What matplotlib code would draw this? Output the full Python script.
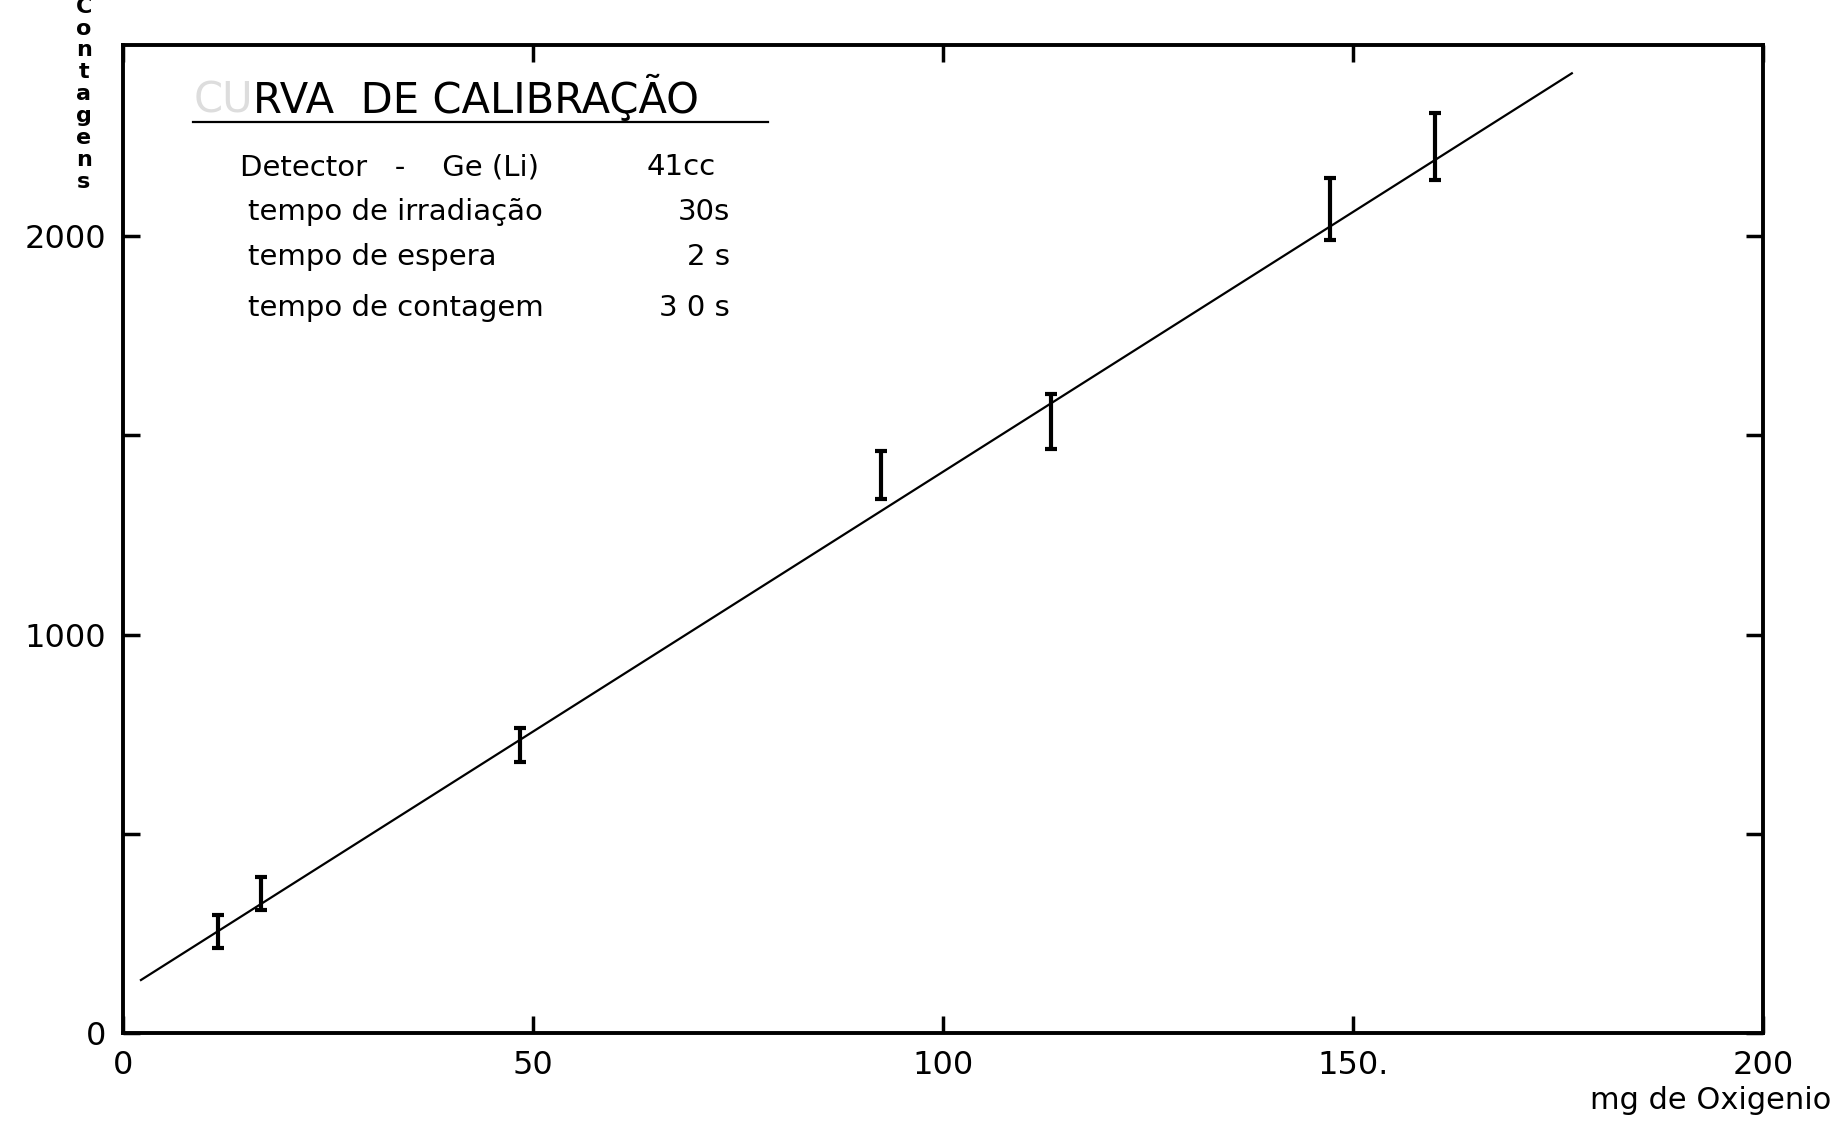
import matplotlib.pyplot as plt

plt.rcParams['font.family'] = ['DejaVu Sans']

# pontos medidos (mg de oxigenio, contagens, erro)
mg = [11.6, 16.8, 48.4, 92.5, 113.2, 147.2, 160.0]
contagens = [255, 350, 723, 1401, 1535, 2068, 2225]
erro = [41, 41, 43, 60, 68, 78, 85]

# reta de calibracao (extremos)
reta_mg = [2.2, 176.7]
reta_cont = [133, 2409]

xticks = [0, 50, 100, 150, 200]
xlabels = ['0', '50', '100', '150.', '200']
yticks = [0, 500, 1000, 1500, 2000]
ylabels = ['0', '', '1000', '', '2000']

info = [('Detector   -    Ge (Li)', '41cc'),
        ('tempo de irradiação', '30s'),
        ('tempo de espera', '2 s'),
        ('tempo de contagem', '3 0 s')]

fig = plt.figure(figsize=(18.4, 11.21), dpi=100)
ax = fig.add_axes([0.0668, 0.0785, 0.8913, 0.881])

ax.plot(reta_mg, reta_cont, color='black', lw=1.6)
ax.errorbar(mg, contagens, yerr=erro, fmt='none', ecolor='black',
            elinewidth=3, capsize=4.5, capthick=3)

ax.set_xlim(0, 200)
ax.set_ylim(0, 2479)
ax.set_xticks(xticks)
ax.set_xticklabels(xlabels)
ax.set_yticks(yticks)
ax.set_yticklabels(ylabels)
ax.tick_params(direction='in', length=12, width=2.5, labelsize=23,
               top=True, right=True, pad=12)
for s in ax.spines.values():
    s.set_linewidth(2.8)

# titulo com "CU" apagado
t1 = ax.text(8.6, 2310, 'CU', fontsize=30, color='#dddddd', va='baseline')
ax.annotate('RVA  DE CALIBRAÇÃO', xy=(1, 0), xycoords=t1, fontsize=30,
            va='bottom', ha='left')
ax.axhline(2286, xmin=8.6 / 200, xmax=78.7 / 200, color='black', lw=1.6)

ys = [2153, 2041, 1929, 1799]
for (nome, valor), y in zip(info, ys):
    x0 = 14.3 if nome.startswith('Detector') else 15.3
    ax.text(x0, y, nome, fontsize=21, va='baseline')
    xr = 72.3 if nome.startswith('Detector') else 74.0
    ax.text(xr, y, valor, fontsize=21, va='baseline', ha='right')

fig.text(0.995, 0.018, 'mg de Oxigenio', fontsize=22, ha='right', va='center')
# rotulo vertical "Contagens", cortado no topo como no original
fig.text(0.0455, 1 - 192 / 1121, 'C\no\nn\nt\na\ng\ne\nn\ns', fontsize=16,
         fontweight='bold', ha='center', va='bottom', linespacing=1.12)

fig.savefig('out.png')
